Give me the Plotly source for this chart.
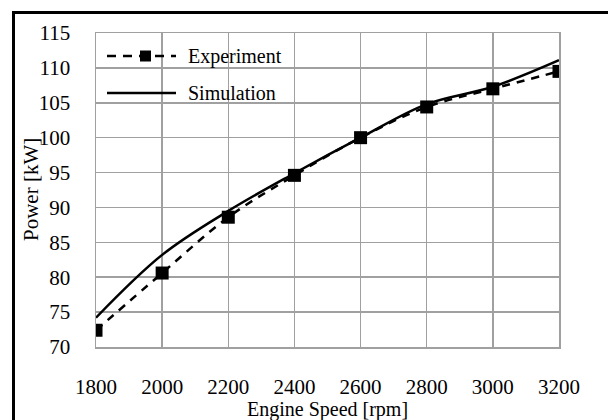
import plotly.graph_objects as go

speed = [1800, 2000, 2200, 2400, 2600, 2800, 3000, 3200]
experiment = [72.4, 80.6, 88.6, 94.6, 100.0, 104.4, 107.0, 109.5]
simulation = [74.2, 83.2, 89.5, 94.9, 100.0, 104.8, 107.3, 111.1]
x_ticks = [1800, 2000, 2200, 2400, 2600, 2800, 3000, 3200]
y_ticks = [70, 75, 80, 85, 90, 95, 100, 105, 110, 115]

FONT = "Liberation Serif"
W, H = 608, 420
ML, MR, MT, MB = 96, 49, 33, 73
PW, PH = W - ML - MR, H - MT - MB

def px(x):
    return (x - ML) / PW

def py(y):
    return 1 - (y - MT) / PH

fig = go.Figure()
fig.add_trace(go.Scatter(
    x=speed, y=simulation, name="Simulation", mode="lines",
    line=dict(color="black", width=2.5, shape="spline", smoothing=1.0),
    showlegend=False,
))
fig.add_trace(go.Scatter(
    x=speed, y=experiment, name="Experiment", mode="lines+markers",
    line=dict(color="black", width=2.5, dash="8px,7px", shape="spline", smoothing=1.0),
    marker=dict(symbol="square", size=13, color="black"),
    showlegend=False,
))

shapes = [
    # outer frame (left and top edges visible in the picture)
    dict(type="line", xref="paper", yref="paper",
         x0=px(13.5), x1=px(13.5), y0=py(11), y1=py(425),
         line=dict(color="black", width=3), layer="above"),
    dict(type="line", xref="paper", yref="paper",
         x0=px(12), x1=px(615), y0=py(12.5), y1=py(12.5),
         line=dict(color="black", width=3), layer="above"),
    # legend background
    dict(type="rect", xref="paper", yref="paper",
         x0=px(97), x1=px(283), y0=py(34), y1=py(108),
         line=dict(width=0), fillcolor="white", layer="between"),
    # legend: experiment sample
    dict(type="line", xref="paper", yref="paper",
         x0=px(107), x1=px(176), y0=py(56), y1=py(56),
         line=dict(color="black", width=2.5, dash="9px,7px"), layer="above"),
    # legend: simulation sample
    dict(type="line", xref="paper", yref="paper",
         x0=px(107), x1=px(176), y0=py(93), y1=py(93),
         line=dict(color="black", width=2.5), layer="above"),
    # legend marker square
    dict(type="rect", xref="paper", yref="paper",
         x0=px(140), x1=px(151), y0=py(50.5), y1=py(61.5),
         line=dict(width=0), fillcolor="black", layer="above"),
]

annotations = [
    dict(text="Experiment", xref="paper", yref="paper", x=px(187), y=py(56),
         xanchor="left", yanchor="middle", showarrow=False, borderpad=0,
         font=dict(family=FONT, size=20, color="black")),
    dict(text="Simulation", xref="paper", yref="paper", x=px(187), y=py(93),
         xanchor="left", yanchor="middle", showarrow=False, borderpad=0,
         font=dict(family=FONT, size=20, color="black")),
    dict(text="Engine Speed [rpm]", xref="paper", yref="paper", x=px(327), y=py(409),
         xanchor="center", yanchor="middle", showarrow=False, borderpad=0,
         font=dict(family=FONT, size=20, color="black")),
    dict(text="Power [kW]", xref="paper", yref="paper", x=px(31), y=py(190),
         xanchor="center", yanchor="middle", showarrow=False, borderpad=0,
         textangle=-90, font=dict(family=FONT, size=21, color="black")),
]

fig.update_layout(
    width=W, height=H,
    margin=dict(l=ML, r=MR, t=MT, b=MB, autoexpand=False),
    paper_bgcolor="white", plot_bgcolor="white",
    font=dict(family=FONT, size=21, color="black"),
    shapes=shapes, annotations=annotations,
    showlegend=False,
)
fig.update_xaxes(
    range=[1800, 3200], tickvals=x_ticks, ticktext=[str(v) for v in x_ticks],
    showgrid=True, gridcolor="#a0a0a0", gridwidth=1.5,
    showline=True, mirror=True, linecolor="#a0a0a0", linewidth=1.5,
    ticks="", ticklabelstandoff=20, zeroline=False, automargin=False,
)
fig.update_yaxes(
    range=[70, 115], tickvals=y_ticks, ticktext=[str(v) for v in y_ticks],
    showgrid=True, gridcolor="#a0a0a0", gridwidth=1.5,
    showline=True, mirror=True, linecolor="#a0a0a0", linewidth=1.5,
    ticks="", ticklabelstandoff=20, zeroline=False, automargin=False,
)

fig.write_html(
    "out.html",
    config={"displayModeBar": False, "staticPlot": True},
    post_script=(
        "document.body.style.margin='0';"
        "document.body.style.overflow='hidden';"
        "document.documentElement.style.overflow='hidden';"
    ),
)
